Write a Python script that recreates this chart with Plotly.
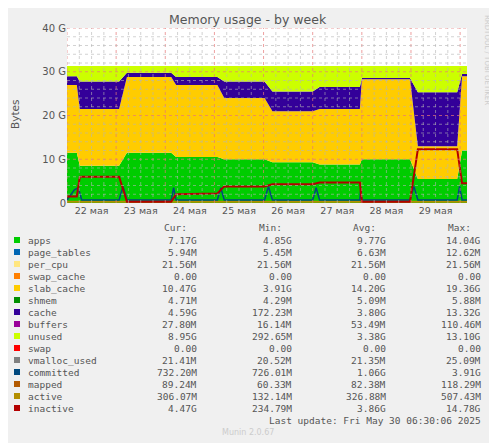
import plotly.graph_objects as go
import pandas as pd

base = pd.Timestamp("2025-05-22 00:00")
# plateau times (days since 22 May 00:00): start/end of each plateau
t_days = [0, 0.2, 0.26, 1.06, 1.22, 2.12, 2.22, 3.06, 3.2, 4.02, 4.18, 5.0, 5.14, 5.96, 6.0, 6.98, 7.14, 7.94, 8.04, 8.14]
apps     = [11.5, 11.5, 8.5, 8.5, 11.5, 11.5, 10.5, 10.5, 10, 10, 9.3, 9.3, 8.8, 8.8, 10, 10, 5.5, 5.5, 12, 12]
slab     = [15.5, 15.5, 13, 13, 17.3, 17.3, 16.5, 16.5, 14, 14, 11.7, 11.7, 12.7, 12.7, 18.3, 18.3, 7.5, 7.5, 17, 17]
cache    = [2, 2, 6.3, 6.3, 1, 1, 1.8, 1.8, 3.8, 3.8, 4.5, 4.5, 5, 5, 0.3, 0.3, 12.3, 12.3, 0.5, 0.5]
unused   = [2.3, 2.3, 3.5, 3.5, 1.5, 1.5, 2.5, 2.5, 3.5, 3.5, 5.8, 5.8, 4.8, 4.8, 2.7, 2.7, 6, 6, 1.8, 1.8]
inactive = [1.5, 1.5, 6, 6, 0.3, 0.3, 2, 2.2, 3.8, 3.8, 4.3, 4.3, 4.7, 4.7, 0.3, 0.3, 12.3, 12.3, 4.5, 4.5]
ct_days  = [0, 0.15, 0.23, 0.3, 1.06, 1.14, 1.22, 2.12, 2.17, 2.22, 3.06, 3.13, 3.2, 4.02, 4.1, 4.18, 5.0, 5.07, 5.14, 5.96, 5.98, 6.0, 6.98, 7.06, 7.14, 7.94, 7.99, 8.04, 8.14]
committed= [0.7, 3, 3.5, 0.7, 0.7, 3.8, 0.7, 0.7, 3.5, 0.7, 0.7, 3.5, 0.7, 0.7, 3.8, 0.7, 0.7, 3.5, 0.7, 0.7, 3.5, 0.7, 0.7, 3.8, 0.7, 0.7, 3.8, 0.7, 0.7]
active_v = 0.3

days = ["22 мая", "23 мая", "24 мая", "25 мая", "26 мая", "27 мая", "28 мая", "29 мая"]
legend_names = ["apps", "page_tables", "per_cpu", "swap_cache", "slab_cache", "shmem", "cache", "buffers",
                "unused", "swap", "vmalloc_used", "committed", "mapped", "active", "inactive"]
legend_colors = ["#00cc00", "#0066b3", "#ffe680", "#ff8000", "#ffcc00", "#008f00", "#330099", "#990099",
                 "#ccff00", "#ff0000", "#808080", "#00487d", "#b35a00", "#b38f00", "#b30000"]
cur = ["7.17G", "5.94M", "21.56M", "0.00", "10.47G", "4.71M", "4.59G", "27.80M", "8.95G", "0.00", "21.41M", "732.20M", "89.24M", "306.07M", "4.47G"]
mn  = ["4.85G", "5.45M", "21.56M", "0.00", "3.91G", "4.29M", "172.23M", "16.14M", "292.65M", "0.00", "20.52M", "726.01M", "60.33M", "132.14M", "234.79M"]
avg = ["9.77G", "6.63M", "21.56M", "0.00", "14.20G", "5.09M", "3.80G", "53.49M", "3.38G", "0.00", "21.35M", "1.06G", "82.38M", "326.88M", "3.86G"]
mx  = ["14.04G", "12.62M", "21.56M", "0.00", "19.36G", "5.88M", "13.32G", "110.46M", "13.10G", "0.00", "25.09M", "3.91G", "118.29M", "507.43M", "14.78G"]

T = [base + pd.Timedelta(days=d) for d in t_days]
CT = [base + pd.Timedelta(days=d) for d in ct_days]
fig = go.Figure()
for name, vals, col in [("apps", apps, "#00cc00"), ("slab_cache", slab, "#ffcc00"),
                        ("cache", cache, "#330099"), ("unused", unused, "#ccff00")]:
    fig.add_trace(go.Scatter(x=T, y=vals, stackgroup="s", mode="lines", line=dict(width=0),
                             fillcolor=col, name=name))
fig.add_trace(go.Scatter(x=[T[0], T[-1]], y=[active_v, active_v], mode="lines", line=dict(color="#b38f00", width=2)))
fig.add_trace(go.Scatter(x=CT, y=committed, mode="lines", line=dict(color="#00487d", width=1.5)))
fig.add_trace(go.Scatter(x=T, y=inactive, mode="lines", line=dict(color="#b30000", width=2)))

end = T[-1]
shapes = []
for i in range(0, 33):
    tt = base + pd.Timedelta(hours=6 * i)
    if tt > end:
        break
    midnight = (i % 4 == 0)
    shapes.append(dict(type="line", xref="x", yref="paper", x0=tt, x1=tt, y0=0, y1=1, layer="above",
                       line=dict(color="rgba(230,120,120,0.7)" if midnight else "rgba(180,180,180,0.6)", width=1, dash="dot")))
for v in range(2, 41, 2):
    shapes.append(dict(type="line", xref="paper", yref="y", x0=0, x1=1, y0=v, y1=v, layer="above",
                       line=dict(color="rgba(230,120,120,0.7)" if v % 10 == 0 else "rgba(180,180,180,0.6)", width=1, dash="dot")))

# page pixel -> paper coords
def px(x): return (x - 67) / 400
def py(y): return (203 - y) / 175

ann = []
mono = dict(family="DejaVu Sans Mono", size=9.5, color="#555")
for h, xc in [("Cur:", 175), ("Min:", 270), ("Avg:", 364), ("Max:", 459)]:
    ann.append(dict(x=px(xc), y=py(227), xref="paper", yref="paper", text=h, showarrow=False, font=mono, xanchor="center", yanchor="middle"))
for i, n in enumerate(legend_names):
    yy = 240 + 12 * i
    shapes.append(dict(type="rect", xref="paper", yref="paper", x0=px(14), x1=px(20), y0=py(yy - 3), y1=py(yy + 3),
                       fillcolor=legend_colors[i], line=dict(width=0)))
    ann.append(dict(x=px(26), y=py(yy), xref="paper", yref="paper", text=n, showarrow=False, font=mono, xanchor="left", yanchor="middle"))
    for val, xr in [(cur[i], 199), (mn[i], 294), (avg[i], 388), (mx[i], 483)]:
        ann.append(dict(x=px(xr), y=py(yy), xref="paper", yref="paper", text=val, showarrow=False, font=mono, xanchor="right", yanchor="middle"))
ann.append(dict(x=px(483), y=py(420), xref="paper", yref="paper", text="Last update: Fri May 30 06:30:06 2025", showarrow=False, font=mono, xanchor="right", yanchor="middle"))
ann.append(dict(x=px(248), y=py(432), xref="paper", yref="paper", text="Munin 2.0.67", showarrow=False, font=dict(family="DejaVu Sans", size=8, color="#ccc"), xanchor="center", yanchor="middle"))
ann.append(dict(x=px(248), y=py(19), xref="paper", yref="paper", text="Memory usage - by week", showarrow=False, font=dict(family="DejaVu Sans", size=12.5, color="#555"), xanchor="center", yanchor="middle"))
ann.append(dict(x=px(15), y=py(115), xref="paper", yref="paper", text="Bytes", showarrow=False, textangle=-90, font=dict(family="DejaVu Sans", size=10.5, color="#555"), xanchor="center", yanchor="middle"))
ann.append(dict(x=px(487), y=py(60), xref="paper", yref="paper", text="RRDTOOL / TOBI OETIKER", showarrow=False, textangle=90, font=dict(family="DejaVu Sans", size=7, color="#ccc"), xanchor="center", yanchor="middle"))

fig.update_layout(
    width=489, height=435, margin=dict(l=59, r=30, t=20, b=240),
    paper_bgcolor="#f0f0f0", plot_bgcolor="#ffffff", showlegend=False,
    shapes=shapes, annotations=ann,
    font=dict(family="DejaVu Sans", size=10, color="#555"),
    xaxis=dict(range=[base, end], tickvals=[base + pd.Timedelta(hours=12 + 24 * i) for i in range(8)],
               ticktext=days, showgrid=False, zeroline=False, ticks="", tickfont=dict(size=9.5)),
    yaxis=dict(range=[0, 40], tickvals=[0, 10, 20, 30, 40], ticktext=["0", "10 G", "20 G", "30 G", "40 G"],
               showgrid=False, zeroline=False, tickfont=dict(size=10)),
)
fig.write_html("out.html")
